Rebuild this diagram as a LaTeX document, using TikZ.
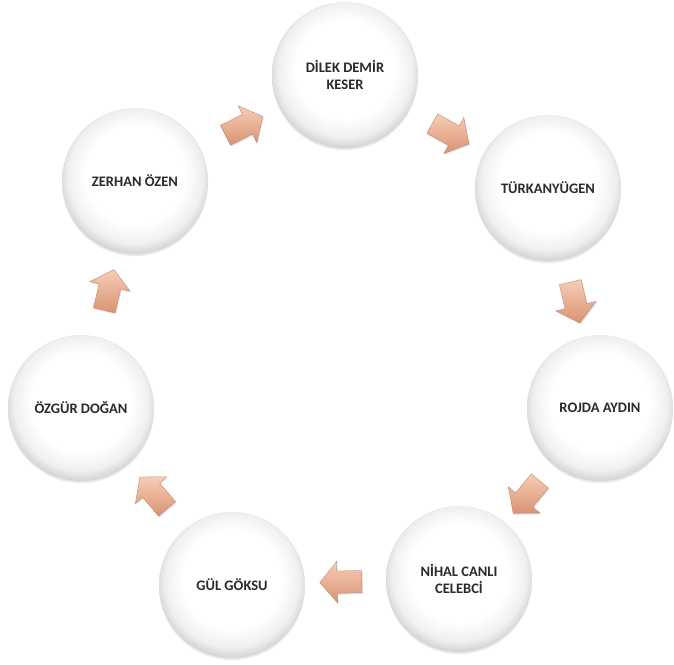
\documentclass[tikz,border=0pt]{standalone}
\usepackage{fontspec}
\setmainfont{Carlito}
\usetikzlibrary{shapes.arrows,shadows,calc}
\definecolor{arrowlight}{HTML}{F7CDB5}
\definecolor{arrowdark}{HTML}{D99373}
\definecolor{txt}{HTML}{2A2A2A}
\pgfdeclareradialshading{sphereshade}{\pgfpoint{0bp}{3bp}}{color(0bp)=(white); color(17bp)=(white); color(23bp)=(black!6); color(26bp)=(black!16); color(28bp)=(black!24); color(50bp)=(black!24)}
\tikzset{
  person/.style={circle, minimum size=146pt, inner sep=0pt, shade, shading=sphereshade,
    drop shadow={shadow xshift=0pt, shadow yshift=-2pt, opacity=0.18},
    font=\bfseries\fontsize{14.5}{17}\selectfont, text=txt, align=center},
  flow/.style={single arrow, minimum height=42pt, inner xsep=0pt, inner ysep=11pt,
    single arrow head extend=9.5pt, single arrow tip angle=100,
    top color=arrowlight, bottom color=arrowdark, draw=arrowdark!85!black, line width=0.3pt,
    drop shadow={shadow xshift=1pt, shadow yshift=-1.5pt, opacity=0.18}}
}
\begin{document}
\begin{tikzpicture}[x=1pt,y=-1pt]
\useasboundingbox (0,0) rectangle (674,664);
\node[person] (dilek) at (345,75) {DİLEK DEMİR\\KESER};
\node[person] (turkan) at (548,188) {TÜRKANYÜGEN};
\node[person] (rojda) at (600,408) {ROJDA AYDIN};
\node[person] (nihal) at (459,579) {NİHAL CANLI\\CELEBCİ};
\node[person] (gul) at (232,585) {GÜL GÖKSU};
\node[person] (ozgur) at (81,408) {ÖZGÜR DOĞAN};
\node[person] (zerhan) at (135,181) {ZERHAN ÖZEN};
\foreach \ra/\rb/\nm in {zerhan/dilek/a1, dilek/turkan/a2, turkan/rojda/a3, rojda/nihal/a4, nihal/gul/a5, gul/ozgur/a6, ozgur/zerhan/a7}{
  \path let \p1=($(\rb)-(\ra)$), \n1={atan2(\y1,\x1)} in
    node[flow, rotate=\n1] (\nm) at ($(\ra)!0.5!(\rb)$) {};
}
\end{tikzpicture}
\end{document}
